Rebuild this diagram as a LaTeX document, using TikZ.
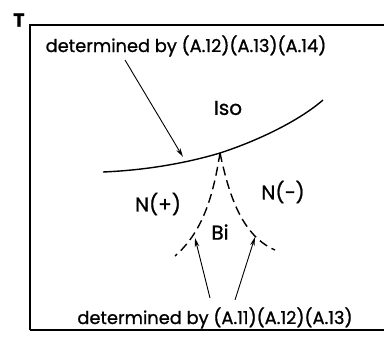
\documentclass[tikz,border=0pt]{standalone}
\usepackage{fontspec}
\setmainfont{Poppins}[FakeBold=1]
\usetikzlibrary{arrows.meta}
\begin{document}
\begin{tikzpicture}[x=1pt,y=-1pt,
  lbl/.style={inner sep=0pt, font=\fontsize{17.8}{20}\selectfont},
  reg/.style={inner sep=0pt, font=\fontsize{20}{22}\selectfont},
  ptr/.style={line width=0.9pt, -{Stealth[length=9pt,width=4.5pt]}},
  bound/.style={line width=1.4pt},
  bif/.style={line width=1.4pt, dash pattern=on 9pt off 5pt}]
\useasboundingbox (0,0) rectangle (384,354);
\draw[line width=1.4pt] (30,330) -- (30,25) -- (390,25);
\draw[line width=1.4pt] (30,330) -- (390,330);
\node[reg, font=\fontsize{19}{21}\selectfont\bfseries] (T) at (19,20) {T};
\node[lbl] (top) at (186,46) {determined by (A.12)(A.13)(A.14)};
\node[lbl] (bot) at (215,318) {determined by (A.11)(A.12)(A.13)};
\node[reg] (iso) at (228,108) {Iso};
\node[reg] (np) at (158,204) {N(+)};
\node[reg] (nm) at (283,192) {N(−)};
\node[reg] (bi) at (220,232) {Bi};
\coordinate (cusp) at (220,153);
\coordinate (tip1) at (183,157);
\coordinate (tip2) at (195,238);
\coordinate (tip3) at (255,237);
\draw[bound] (103,172) .. controls (150,170) and (190,162) .. (cusp)
  .. controls (260,140) and (300,120) .. (323,100);
\draw[bif] (cusp) .. controls (214,190) and (205,230) .. (175,256);
\draw[bif] (cusp) .. controls (228,190) and (240,235) .. (275,250);
\draw[ptr] (125,60) -- (tip1);
\draw[ptr] (210,298) -- (tip2);
\draw[ptr] (235,300) -- (tip3);
\end{tikzpicture}
\end{document}
